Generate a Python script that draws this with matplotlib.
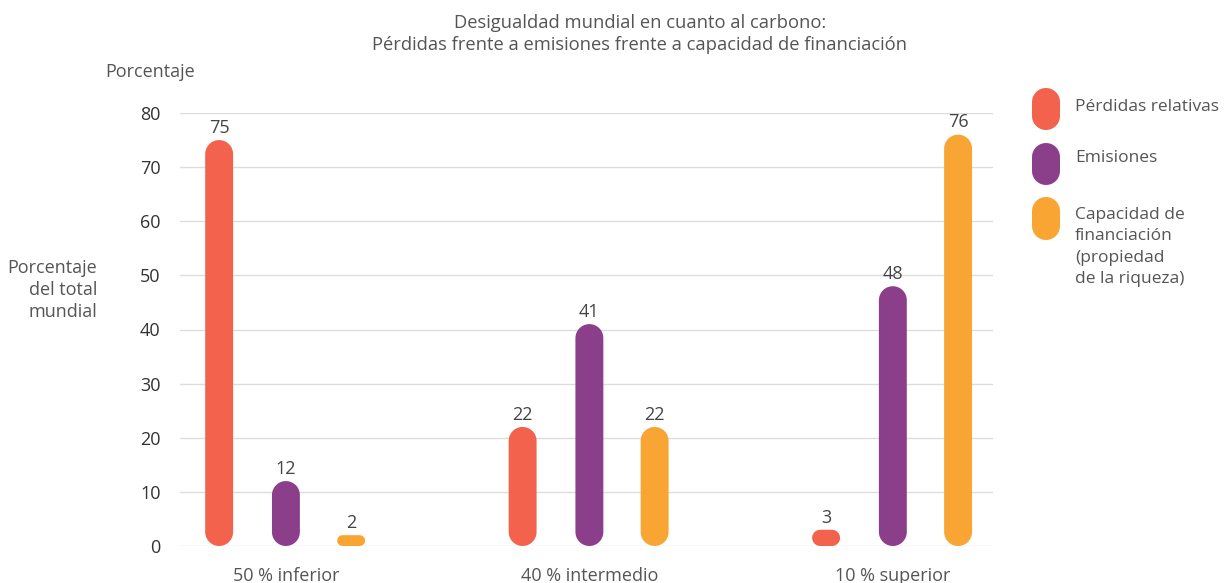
import numpy as np
import matplotlib.pyplot as plt
from matplotlib.path import Path
from matplotlib.patches import PathPatch
from matplotlib.transforms import IdentityTransform

plt.rcParams['font.family'] = ['Open Sans', 'DejaVu Sans']

# data
groups = ["50 % inferior", "40 % intermedio", "10 % superior"]
series = ["Pérdidas relativas", "Emisiones",
          "Capacidad de\nfinanciación\n(propiedad\nde la riqueza)"]
perdidas = [75, 22, 3]
emisiones = [12, 41, 48]
capacidad = [2, 22, 76]
colors = ["#F2624D", "#8B3F8B", "#F9A533"]
yticks = [0, 10, 20, 30, 40, 50, 60, 70, 80]

W, H = 1229, 583
fig = plt.figure(figsize=(W / 100, H / 100), dpi=100)
ax = fig.add_axes([180 / W, (H - 546) / H, (993 - 180) / W, (546 - 113) / H])
ax.set_xlim(-0.349, 2.33)
ax.set_ylim(0, 80)

ax.set_yticks(yticks)
ax.tick_params(axis='y', length=0, pad=14, labelsize=13, labelcolor="#333333")
ax.set_xticks(range(len(groups)))
ax.set_xticklabels(groups)
ax.tick_params(axis='x', length=0, pad=15, labelsize=13, labelcolor="#555555")
ax.grid(axis='y', color="#dddddd", linewidth=1)
ax.set_axisbelow(True)
for s in ax.spines.values():
    s.set_visible(False)


def pill(x0, y0, x1, y1, color):
    # rounded bar in pixel coordinates
    hw = (x1 - x0) / 2
    r = min(hw, (y1 - y0) / 2)
    t = np.linspace(0, np.pi / 2, 12)
    pts = []
    # bottom-right, top-right, top-left, bottom-left corners
    for cx, cy, a0 in [(x1 - r, y0 + r, -np.pi / 2), (x1 - r, y1 - r, 0),
                       (x0 + r, y1 - r, np.pi / 2), (x0 + r, y0 + r, np.pi)]:
        a = a0 + t
        pts += list(zip(cx + r * np.cos(a), cy + r * np.sin(a)))
    pts.append(pts[0])
    p = PathPatch(Path(pts), facecolor=color, edgecolor='none',
                  transform=IdentityTransform(), zorder=3, clip_on=False)
    fig.add_artist(p)


offsets = [-0.22, 0.0, 0.215]
half = 0.046
for vals, off, c in zip([perdidas, emisiones, capacidad], offsets, colors):
    for i, v in enumerate(vals):
        (xa, ya), (xb, yb) = ax.transData.transform([(i + off - half, 0), (i + off + half, v)])
        pill(xa, ya, xb, yb, c)
        ax.text(i + off, v + 0.6, str(v), ha='center', va='bottom',
                fontsize=13, color="#444444")

# legend
leg_y = [(88, 130), (143, 185), (197, 240)]
leg_text_y = [107, 158, 215]
for (t, b), ty, c, lab in zip(leg_y, leg_text_y, colors, series):
    pill(1032, H - b, 1060, H - t, c)
    fig.text(1075 / W, 1 - (ty - 8) / H, lab, ha='left', va='top',
             fontsize=12.5, color="#555555", linespacing=1.45)

fig.text(640 / W, 1 - 34 / H,
         "Desigualdad mundial en cuanto al carbono:\nPérdidas frente a emisiones frente a capacidad de financiación",
         ha='center', va='center', fontsize=13.2, color="#555555", linespacing=1.35)
fig.text(105 / W, 1 - 72 / H, "Porcentaje", ha='left', va='center',
         fontsize=13, color="#555555")
fig.text(97 / W, 1 - 290 / H, "Porcentaje\ndel total\nmundial", ha='right',
         va='center', fontsize=13, color="#555555", linespacing=1.3)

fig.savefig("out.png", dpi=100)
